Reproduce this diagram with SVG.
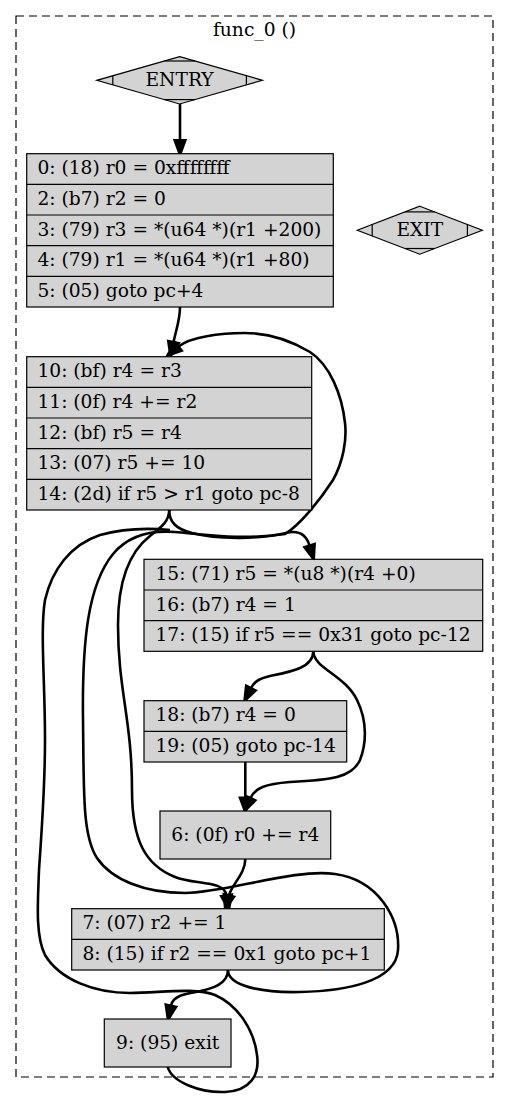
<svg xmlns="http://www.w3.org/2000/svg" width="509" height="1097" viewBox="0 0 509 1097">
  <defs>
    <style>
      .lbl { font-family: "DejaVu Serif", "Liberation Serif", serif; font-size: 18.67px; fill: #000; }
      .mid { text-anchor: middle; }
      .box { fill: #d3d3d3; stroke: #000; stroke-width: 1.2; }
      .sep { stroke: #000; stroke-width: 1.2; }
      .diag { stroke: #000; stroke-width: 1.2; fill: none; }
      .edge { fill: none; stroke: #000; stroke-width: 2.6; }
      .edge.head { marker-end: url(#arrow); }
    </style>
    <marker id="arrow" markerUnits="userSpaceOnUse" markerWidth="20" markerHeight="20" refX="0" refY="0" orient="auto" viewBox="-2 -8 18 16" overflow="visible">
      <path d="M0,-5 L13.5,0 L0,5 z" fill="#000" stroke="#000" stroke-width="2"/>
    </marker>
  </defs>

  <!-- function cluster -->
  <g id="cluster_func_0">
    <rect x="16" y="16" width="477" height="1061" fill="none" stroke="#000" stroke-width="1.2" stroke-dasharray="8,5"/>
    <text class="lbl mid" x="254.5" y="35.5">func_0 ()</text>
  </g>

  <!-- connectors -->
  <g id="edges">
    <!-- ENTRY -> bb 0 -->
    <path class="edge head" d="M180,104 L180,140.2"/>
    <!-- bb 0 -> bb 10 -->
    <path class="edge head" d="M180,307 C180,320 176,330 173.5,342"/>
    <!-- bb 10 -> bb 15 -->
    <path class="edge head" d="M169.2,510 C169.2,522 176,529 192,533 C218,540 262,539 286,533 C298,530 306,534 309.5,545.5"/>
    <!-- bb 10 -> bb 7 -->
    <path class="edge head" d="M169.2,510 C169.2,522 160,528 150,536 C128,553 118,585 118,625 C118,690 132,720 132,790 C132,840 145,865 175,877 C195,885 224,880 226.5,895.3"/>
    <!-- bb 15 -> bb 18 -->
    <path class="edge head" d="M313.3,651.3 C313.3,668 290,672 270,676 C262,678 255,680 251,688"/>
    <!-- bb 15 -> bb 6 -->
    <path class="edge head" d="M313.3,651.3 C313.3,668 345,675 357,700 C368,722 366,745 360,760 C352,778 330,780 290,782 C265,784 255,788 250.5,798"/>
    <!-- bb 18 -> bb 6 -->
    <path class="edge head" d="M245.3,762 L245.3,797.5"/>
    <!-- bb 6 -> bb 7 -->
    <path class="edge head" d="M245.3,859 C245.3,874 232,884 229,895.3"/>
    <!-- bb 7 -> bb 9 -->
    <path class="edge head" d="M228,970 C228,984 212,989 196,992 C184,994 173,996 171,1005.5"/>
    <!-- bb 7 -> bb 10 -->
    <path class="edge head" d="M228,970 C228,986 262,993 300,992 C345,991 396,982 398,950 C400,918 378,880 335,874 C295,868 225,893 185,893 C145,893 112,880 97,858 C82,835 84,790 83,720 C82,640 88,585 113,554 C128,536 150,530 175,532 C210,535 245,540 285,534 C300,525 320,500 333,480 C343,462 347,440 345,423 C342,395 330,365 310,352 C290,340 270,333 245,333 C220,333 190,337 178.5,346.5"/>
    <!-- bb 9 -> onward -->
    <path class="edge" d="M167.7,1067 C172,1082 200,1093 225,1092 C250,1091 260,1075 257,1055 C254,1030 238,1005 215,995 C195,987 160,993 130,993 C95,993 60,980 45,955 C35,935 38,900 39,870 C41,840 45,790 45,740 C45,680 40,630 45,600 C52,570 70,545 100,535 C125,528 150,528 170,530"/>
  </g>

  <!-- ENTRY -->
  <g id="node_entry">
    <polygon class="box" points="179.6,56.6 262.4,80.3 179.6,104 96.8,80.3"/>
    <line class="diag" x1="164.2" y1="61" x2="195" y2="61"/>
    <line class="diag" x1="164.2" y1="99.6" x2="195" y2="99.6"/>
    <line class="diag" x1="112.8" y1="75.7" x2="112.8" y2="84.9"/>
    <line class="diag" x1="246.4" y1="75.7" x2="246.4" y2="84.9"/>
    <text class="lbl mid" x="179.6" y="86">ENTRY</text>
  </g>

  <!-- EXIT -->
  <g id="node_exit">
    <polygon class="box" points="419.8,206.2 482.3,230.2 419.8,254.2 357.3,230.2"/>
    <line class="diag" x1="404.9" y1="211.9" x2="434.7" y2="211.9"/>
    <line class="diag" x1="404.9" y1="248.5" x2="434.7" y2="248.5"/>
    <line class="diag" x1="372.2" y1="224.5" x2="372.2" y2="235.9"/>
    <line class="diag" x1="467.4" y1="224.5" x2="467.4" y2="235.9"/>
    <text class="lbl mid" x="419.8" y="236">EXIT</text>
  </g>

  <!-- bb 0 -->
  <g id="node_bb0">
    <rect class="box" x="26.7" y="153.7" width="306.6" height="153.3"/>
    <line class="sep" x1="26.7" y1="184.4" x2="333.3" y2="184.4"/>
    <line class="sep" x1="26.7" y1="215" x2="333.3" y2="215"/>
    <line class="sep" x1="26.7" y1="245.7" x2="333.3" y2="245.7"/>
    <line class="sep" x1="26.7" y1="276.3" x2="333.3" y2="276.3"/>
    <text class="lbl" x="37.4" y="174.2">0: (18) r0 = 0xffffffff</text>
    <text class="lbl" x="37.4" y="204.9">2: (b7) r2 = 0</text>
    <text class="lbl" x="37.4" y="235.5">3: (79) r3 = *(u64 *)(r1 +200)</text>
    <text class="lbl" x="37.4" y="266.2">4: (79) r1 = *(u64 *)(r1 +80)</text>
    <text class="lbl" x="37.4" y="296.8">5: (05) goto pc+4</text>
  </g>

  <!-- bb 10 -->
  <g id="node_bb10">
    <rect class="box" x="26.7" y="356.7" width="285" height="153.3"/>
    <line class="sep" x1="26.7" y1="387.4" x2="311.7" y2="387.4"/>
    <line class="sep" x1="26.7" y1="418" x2="311.7" y2="418"/>
    <line class="sep" x1="26.7" y1="448.7" x2="311.7" y2="448.7"/>
    <line class="sep" x1="26.7" y1="479.3" x2="311.7" y2="479.3"/>
    <text class="lbl" x="37.4" y="377.2">10: (bf) r4 = r3</text>
    <text class="lbl" x="37.4" y="407.9">11: (0f) r4 += r2</text>
    <text class="lbl" x="37.4" y="438.5">12: (bf) r5 = r4</text>
    <text class="lbl" x="37.4" y="469.2">13: (07) r5 += 10</text>
    <text class="lbl" x="37.4" y="499.8">14: (2d) if r5 &gt; r1 goto pc-8</text>
  </g>

  <!-- bb 15 -->
  <g id="node_bb15">
    <rect class="box" x="144" y="559.3" width="338.7" height="92"/>
    <line class="sep" x1="144" y1="590" x2="482.7" y2="590"/>
    <line class="sep" x1="144" y1="620.7" x2="482.7" y2="620.7"/>
    <text class="lbl" x="155.4" y="579.8">15: (71) r5 = *(u8 *)(r4 +0)</text>
    <text class="lbl" x="155.4" y="610.5">16: (b7) r4 = 1</text>
    <text class="lbl" x="155.4" y="641.1">17: (15) if r5 == 0x31 goto pc-12</text>
  </g>

  <!-- bb 18 -->
  <g id="node_bb18">
    <rect class="box" x="144" y="700.7" width="202.7" height="61.3"/>
    <line class="sep" x1="144" y1="731.3" x2="346.7" y2="731.3"/>
    <text class="lbl" x="155.4" y="721.2">18: (b7) r4 = 0</text>
    <text class="lbl" x="155.4" y="751.8">19: (05) goto pc-14</text>
  </g>

  <!-- bb 6 -->
  <g id="node_bb6">
    <rect class="box" x="160" y="811" width="170.7" height="48"/>
    <text class="lbl mid" x="245.3" y="840.5">6: (0f) r0 += r4</text>
  </g>

  <!-- bb 7 -->
  <g id="node_bb7">
    <rect class="box" x="71.7" y="908.7" width="312.6" height="61.3"/>
    <line class="sep" x1="71.7" y1="939.3" x2="384.3" y2="939.3"/>
    <text class="lbl" x="82.4" y="929.2">7: (07) r2 += 1</text>
    <text class="lbl" x="82.4" y="959.8">8: (15) if r2 == 0x1 goto pc+1</text>
  </g>

  <!-- bb 9 -->
  <g id="node_bb9">
    <rect class="box" x="104.3" y="1019" width="126.7" height="48"/>
    <text class="lbl mid" x="167.7" y="1048.5">9: (95) exit</text>
  </g>
</svg>
